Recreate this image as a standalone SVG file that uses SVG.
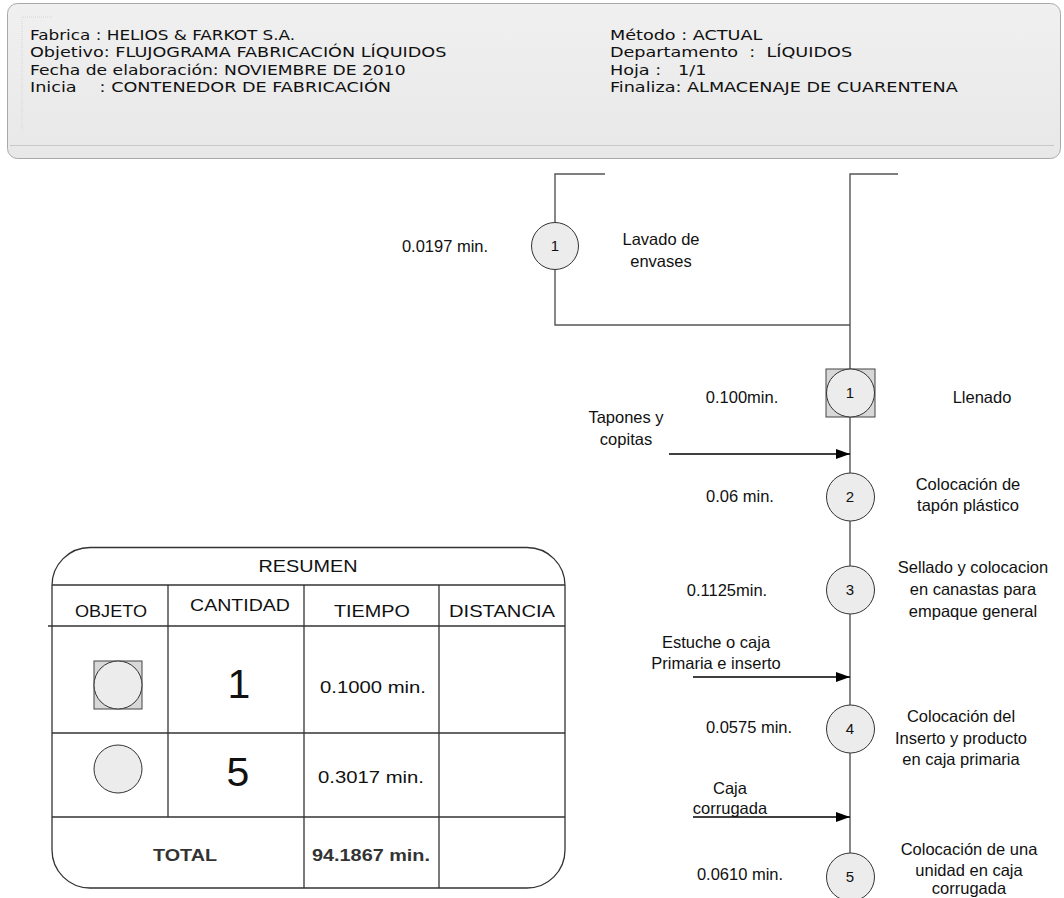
<svg xmlns="http://www.w3.org/2000/svg" width="1064" height="898" viewBox="0 0 1064 898">
<defs>
<marker id="arr" markerWidth="14" markerHeight="10" refX="14" refY="5" orient="auto" markerUnits="userSpaceOnUse"><path d="M0,0 L14,5 L0,10 Z" fill="#000"/></marker>
<linearGradient id="hg" x1="0" y1="0" x2="0" y2="1"><stop offset="0" stop-color="#f0f0f0"/><stop offset="1" stop-color="#e8e8e8"/></linearGradient>
</defs>
<style>
.h{font-family:"DejaVu Sans",sans-serif;font-size:14.7px;fill:#111}
.t{font-family:"Liberation Sans",Arial,sans-serif;font-size:16.5px;fill:#111;text-anchor:middle}
.n{font-family:"Liberation Sans",Arial,sans-serif;font-size:15px;fill:#111;text-anchor:middle}
.tb{font-family:"Liberation Sans",Arial,sans-serif;font-size:17px;fill:#111;text-anchor:middle}
.big{font-family:"Liberation Sans",Arial,sans-serif;font-size:41px;fill:#111;text-anchor:middle}
.bold{font-family:"Liberation Sans",Arial,sans-serif;font-size:17px;font-weight:bold;fill:#333;text-anchor:middle}
.c{fill:#ececec;stroke:#333;stroke-width:1}
.sq{fill:#d8d8d8;stroke:#444;stroke-width:1}
.ln{fill:none;stroke:#555;stroke-width:1.4}
.ar{fill:none;stroke:#000;stroke-width:1.3;marker-end:url(#arr)}
.g{fill:none;stroke:#333;stroke-width:1.3}
</style>
<rect width="1064" height="898" fill="#fff"/>
<g id="header">
<rect x="7.5" y="3.5" width="1053" height="155" rx="10" fill="url(#hg)" stroke="#a8a8a8" stroke-width="1"/>
<path d="M22,130 V17 H52" fill="none" stroke="#d6d6d6" stroke-width="1" stroke-dasharray="1,1"/>
<line x1="10" y1="145.5" x2="1054" y2="145.5" stroke="#c8c8c8" stroke-width="1"/>
<g transform="scale(1.2,1)">
<text class="h" x="25" y="40" textLength="221" lengthAdjust="spacingAndGlyphs">Fabrica : HELIOS &amp; FARKOT S.A.</text>
<text class="h" x="25" y="57.5">Objetivo: FLUJOGRAMA FABRICACIÓN LÍQUIDOS</text>
<text class="h" x="25" y="75" textLength="313" lengthAdjust="spacingAndGlyphs">Fecha de elaboración: NOVIEMBRE DE 2010</text>
<text class="h" x="25" y="92.5">Inicia<tspan x="83">: CONTENEDOR DE FABRICACIÓN</tspan></text>
<text class="h" x="508.3" y="40">Método : ACTUAL</text>
<text class="h" x="508.3" y="57.5" xml:space="preserve">Departamento  :  LÍQUIDOS</text>
<text class="h" x="508.3" y="75" xml:space="preserve">Hoja :   1/1</text>
<text class="h" x="508.3" y="92.5">Finaliza: ALMACENAJE DE CUARENTENA</text>
</g>
</g>
<g id="connectors">
<path class="ln" d="M605,174 H555 V325 H850"/>
<path class="ln" d="M898,174 H850 V860"/>
<line class="ar" x1="669" y1="454" x2="850" y2="454"/>
<line class="ar" x1="693" y1="677" x2="850" y2="677"/>
<line class="ar" x1="693" y1="817" x2="850" y2="817"/>
</g>
<g id="op1-lavado">
<circle class="c" cx="555" cy="246" r="23.5"/>
<text class="n" x="555" y="251">1</text>
<text class="t" x="445" y="252">0.0197 min.</text>
<text class="t" x="661" y="245">Lavado de</text>
<text class="t" x="661" y="267">envases</text>
</g>
<g id="combo1-llenado">
<rect class="sq" x="826" y="369" width="49" height="48"/>
<circle class="c" cx="850.5" cy="393" r="24"/>
<text class="n" x="850" y="398">1</text>
<text class="t" x="742" y="403">0.100min.</text>
<text class="t" x="982" y="403">Llenado</text>
</g>
<g id="in-tapones">
<text class="t" x="626" y="423">Tapones y</text>
<text class="t" x="626" y="445">copitas</text>
</g>
<g id="op2">
<circle class="c" cx="850.5" cy="497" r="24"/>
<text class="n" x="850" y="502">2</text>
<text class="t" x="740" y="502">0.06 min.</text>
<text class="t" x="968" y="490">Colocación de</text>
<text class="t" x="968" y="511">tapón plástico</text>
</g>
<g id="op3">
<circle class="c" cx="850.5" cy="590" r="24"/>
<text class="n" x="850" y="595">3</text>
<text class="t" x="727" y="596">0.1125min.</text>
<text class="t" x="973" y="573">Sellado y colocacion</text>
<text class="t" x="973" y="595">en canastas para</text>
<text class="t" x="973" y="617">empaque general</text>
</g>
<g id="in-estuche">
<text class="t" x="716" y="648">Estuche o caja</text>
<text class="t" x="716" y="669">Primaria e inserto</text>
</g>
<g id="op4">
<circle class="c" cx="850.5" cy="729" r="24"/>
<text class="n" x="850" y="734">4</text>
<text class="t" x="749" y="733">0.0575 min.</text>
<text class="t" x="961" y="722">Colocación del</text>
<text class="t" x="961" y="744">Inserto y producto</text>
<text class="t" x="961" y="765">en caja primaria</text>
</g>
<g id="in-caja">
<text class="t" x="730" y="794">Caja</text>
<text class="t" x="730" y="814">corrugada</text>
</g>
<g id="op5">
<circle class="c" cx="850.5" cy="877" r="24"/>
<text class="n" x="850" y="882">5</text>
<text class="t" x="740" y="880">0.0610 min.</text>
<text class="t" x="969" y="855">Colocación de una</text>
<text class="t" x="969" y="876">unidad en caja</text>
<text class="t" x="969" y="894">corrugada</text>
</g>
<g id="resumen">
<path class="g" d="M90,547.5 H527 A38,38 0 0 1 565,585.5 V850 A38,38 0 0 1 527,888 H90 A38,38 0 0 1 52,850 V585.5 A38,38 0 0 1 90,547.5 Z" fill="#fff"/>
<line class="g" x1="52" y1="585" x2="565" y2="585"/>
<line class="g" x1="48" y1="626" x2="565" y2="626"/>
<line class="g" x1="52" y1="733" x2="565" y2="733"/>
<line class="g" x1="52" y1="817" x2="565" y2="817"/>
<line class="g" x1="168" y1="585" x2="168" y2="817"/>
<line class="g" x1="304" y1="585" x2="304" y2="888"/>
<line class="g" x1="439" y1="585" x2="439" y2="888"/>
<text class="tb" x="308" y="572" textLength="99" lengthAdjust="spacingAndGlyphs">RESUMEN</text>
<text class="tb" x="111" y="617" textLength="72" lengthAdjust="spacingAndGlyphs">OBJETO</text>
<text class="tb" x="240" y="611" textLength="100" lengthAdjust="spacingAndGlyphs">CANTIDAD</text>
<text class="tb" x="372" y="617" textLength="76" lengthAdjust="spacingAndGlyphs">TIEMPO</text>
<text class="tb" x="502" y="617" textLength="106" lengthAdjust="spacingAndGlyphs">DISTANCIA</text>
<rect class="sq" x="94" y="661" width="48" height="48"/>
<circle class="c" cx="118" cy="685" r="24"/>
<text class="big" x="239" y="698">1</text>
<text class="t" x="373" y="693" textLength="106" lengthAdjust="spacingAndGlyphs">0.1000 min.</text>
<circle class="c" cx="118" cy="769" r="24"/>
<text class="big" x="238" y="786">5</text>
<text class="t" x="371" y="783" textLength="106" lengthAdjust="spacingAndGlyphs">0.3017 min.</text>
<text class="bold" x="185" y="861" textLength="64" lengthAdjust="spacingAndGlyphs">TOTAL</text>
<text class="bold" x="371" y="861" textLength="118" lengthAdjust="spacingAndGlyphs">94.1867 min.</text>
</g>
</svg>
